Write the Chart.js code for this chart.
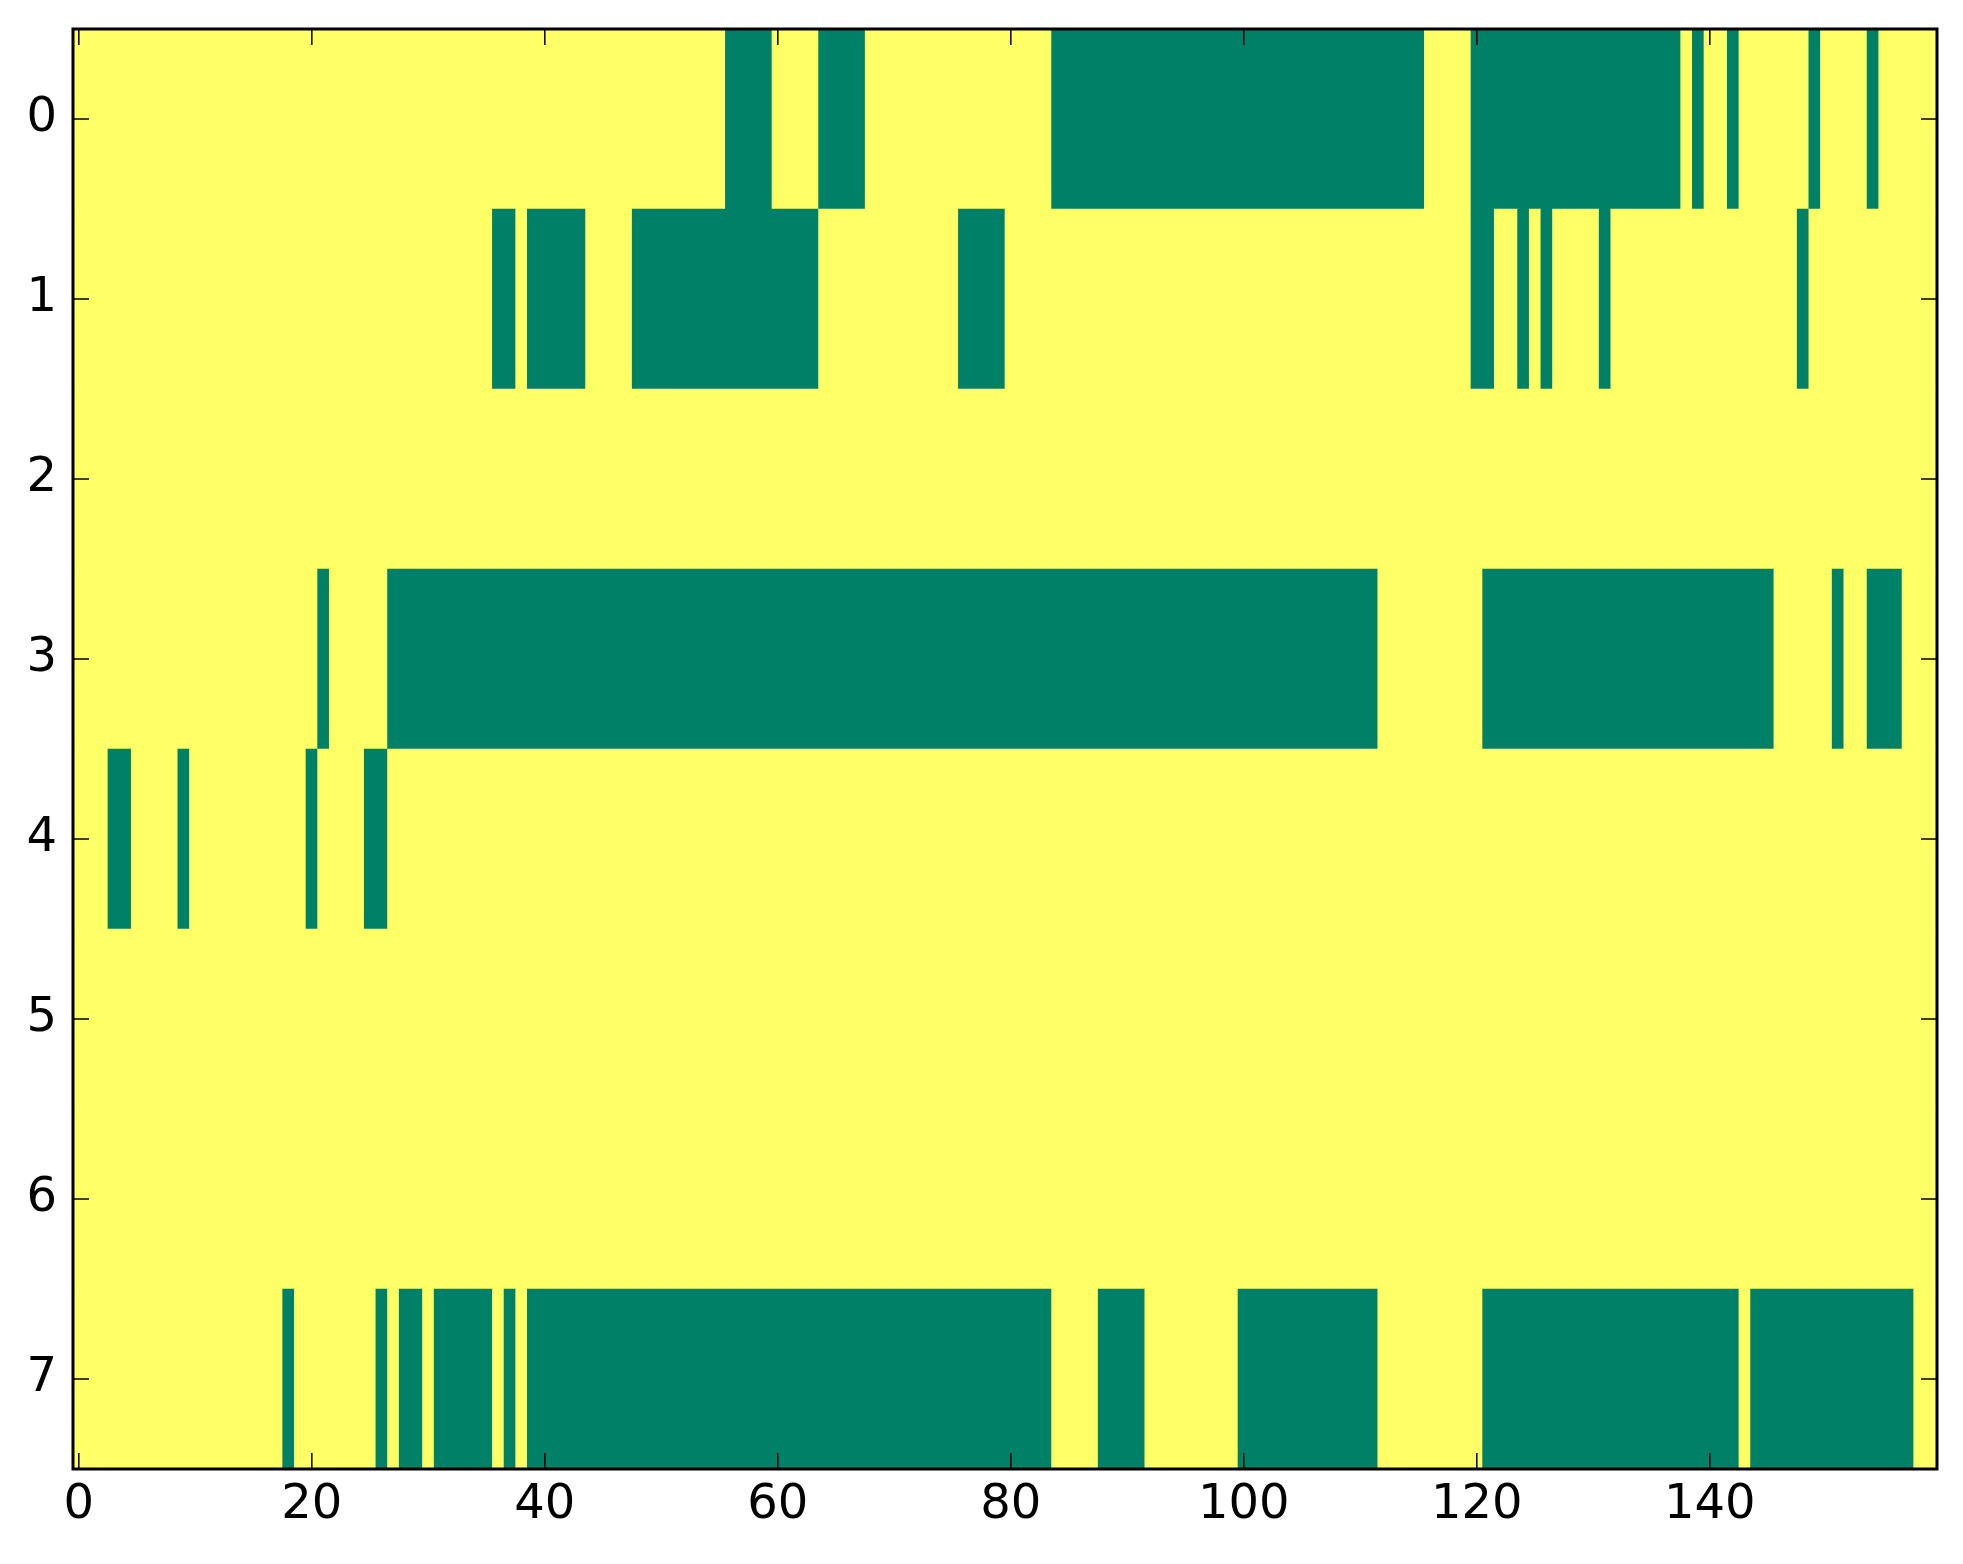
<!DOCTYPE html>
<html>
<head>
<meta charset="utf-8">
<script src="https://cdn.jsdelivr.net/npm/chart.js@4/dist/chart.umd.min.js"></script>
<style>
  html, body { margin: 0; padding: 0; background: #fff; }
  #wrap { width: 1963px; height: 1564px; }
</style>
</head>
<body>
<div id="wrap"><canvas id="heat" width="1963" height="1564"></canvas></div>
<script>
// grid size and ticks
const nRows = 8;
const nCols = 160;
const xTicks = [0, 20, 40, 60, 80, 100, 120, 140];
const yTicks = [0, 1, 2, 3, 4, 5, 6, 7];

// runs of low (green) cells per row, [first col, last col]; all other cells are high (yellow)
const lowRuns0 = [[56, 59], [64, 67], [84, 115], [120, 137], [139, 139], [142, 142], [149, 149], [154, 154]];
const lowRuns1 = [[36, 37], [39, 43], [48, 63], [76, 79], [120, 121], [124, 124], [126, 126], [131, 131], [148, 148]];
const lowRuns2 = [];
const lowRuns3 = [[21, 21], [27, 111], [121, 145], [151, 151], [154, 156]];
const lowRuns4 = [[3, 4], [9, 9], [20, 20], [25, 26]];
const lowRuns5 = [];
const lowRuns6 = [];
const lowRuns7 = [[18, 18], [26, 26], [28, 29], [31, 35], [37, 37], [39, 83], [88, 91], [100, 111], [121, 142], [144, 157]];

const LOW = "#008066";  // summer colormap, 0
const HIGH = "#ffff66"; // summer colormap, 1
const FONT = { family: "'DejaVu Sans', sans-serif", size: 48 };

const allRuns = [lowRuns0, lowRuns1, lowRuns2, lowRuns3, lowRuns4, lowRuns5, lowRuns6, lowRuns7];
const grid = allRuns.map((runs) => {
  const row = new Array(nCols).fill(1);
  runs.forEach(([a, b]) => { for (let c = a; c <= b; c++) row[c] = 0; });
  return row;
});

// merge equal neighbours into floating bars, one per run of cells
const cells = [];
grid.forEach((row, r) => {
  let start = 0;
  for (let c = 1; c <= nCols; c++) {
    if (c === nCols || row[c] !== row[start]) {
      cells.push({ y: r, x: [start - 0.5, c - 0.5], v: row[start] });
      start = c;
    }
  }
});

const frame = {
  id: "frame",
  afterDatasetsDraw(chart) {
    const { ctx, chartArea: a, scales } = chart;
    const len = 16;
    ctx.save();
    ctx.strokeStyle = "#000";
    ctx.lineWidth = 1.5;
    ctx.beginPath();
    scales.x.ticks.forEach((t) => {
      const px = scales.x.getPixelForValue(t.value);
      ctx.moveTo(px, a.bottom); ctx.lineTo(px, a.bottom - len);
      ctx.moveTo(px, a.top); ctx.lineTo(px, a.top + len);
    });
    scales.y.ticks.forEach((t) => {
      const py = scales.y.getPixelForValue(t.value);
      ctx.moveTo(a.left, py); ctx.lineTo(a.left + len, py);
      ctx.moveTo(a.right, py); ctx.lineTo(a.right - len, py);
    });
    ctx.stroke();
    ctx.lineWidth = 3;
    ctx.strokeRect(a.left, a.top, a.right - a.left, a.bottom - a.top);
    ctx.restore();
  },
};

new Chart(document.getElementById("heat"), {
  type: "bar",
  data: {
    datasets: [{
      data: cells,
      backgroundColor: (c) => (c.raw && c.raw.v ? HIGH : LOW),
      borderWidth: 0,
      barPercentage: 1,
      categoryPercentage: 1,
    }],
  },
  options: {
    indexAxis: "y",
    responsive: false,
    animation: false,
    layout: { padding: { top: 29, right: 26, left: 0, bottom: 0 } },
    plugins: { legend: { display: false }, tooltip: { enabled: false } },
    scales: {
      x: {
        type: "linear",
        position: "bottom",
        min: -0.5,
        max: nCols - 0.5,
        grid: { display: false, drawTicks: false },
        border: { display: false },
        ticks: { font: FONT, color: "#000", padding: 8, maxRotation: 0 },
        afterBuildTicks: (s) => { s.ticks = xTicks.map((v) => ({ value: v })); },
        afterFit: (s) => { s.height = 95; s.paddingLeft = 0; s.paddingRight = 0; },
      },
      y: {
        type: "linear",
        reverse: true,
        offset: false,
        min: -0.5,
        max: nRows - 0.5,
        grid: { display: false, drawTicks: false, offset: false },
        border: { display: false },
        ticks: { font: FONT, color: "#000", padding: 16 },
        afterBuildTicks: (s) => { s.ticks = yTicks.map((v) => ({ value: v })); },
        afterFit: (s) => { s.width = 73; s.paddingTop = 0; s.paddingBottom = 0; },
      },
    },
  },
  plugins: [frame],
});
</script>
</body>
</html>
